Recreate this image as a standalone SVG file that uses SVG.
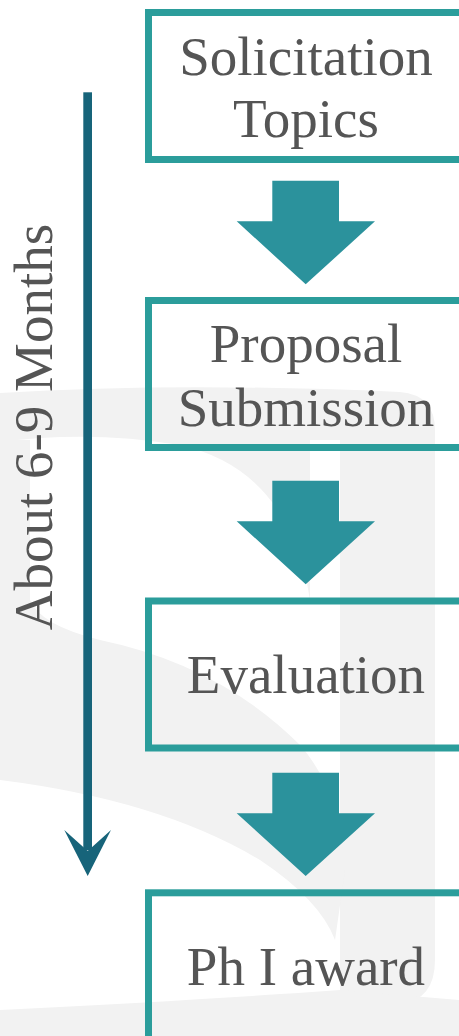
<svg xmlns="http://www.w3.org/2000/svg" width="459" height="1036" viewBox="0 0 459 1036">
<style>
.wm{fill:#f2f2f2;stroke:none}
.box{fill:none;stroke:#2b9d9b;stroke-width:7}
.lbl{font-family:"Liberation Serif","Times New Roman",serif;font-size:55px;fill:#555555;text-anchor:middle}
.blk{fill:#2b929c}
</style>
<rect width="459" height="1036" fill="#ffffff"/>
<g id="watermark">
<path class="wm" d="M0,393 Q180,382 400,392 Q435,395 435,430 L435,960 Q435,1000 400,1004 L340,1004 L340,440 L310,440 L310,600 Q290,470 180,445 Q90,430 0,442 Z"/>
<path class="wm" d="M0,440 L0,780 Q160,800 260,860 Q320,900 335,940 L345,870 Q340,790 300,745 Q220,665 100,640 Q40,625 30,600 L30,440 Z"/>
<path class="wm" d="M0,1010 Q200,1000 340,990 L459,1000 L459,1036 L0,1036 Z"/>
</g>
<g id="connectors">
<polygon class="blk" points="272.3,180.7 339,180.7 339,221.3 375,221.3 305.7,284.3 236.7,221.3 272.3,221.3"/>
<polygon class="blk" points="272.3,480.7 339,480.7 339,521.3 375,521.3 305.7,584.3 236.7,521.3 272.3,521.3"/>
<polygon class="blk" points="272.3,772.7 339,772.7 339,813.3 375,813.3 305.7,876 236.7,813.3 272.3,813.3"/>
</g>
<g id="timeline">
<rect x="83.3" y="92.3" width="8.7" height="758" fill="#17647a"/>
<polygon points="64.3,830 87.7,876 111,830 87.7,851" fill="#17647a"/>
<text class="lbl" transform="translate(52,427) rotate(-90)" x="0" y="0">About 6-9 Months</text>
</g>
<g id="node1">
<rect class="box" x="148.5" y="12.5" width="330" height="147"/>
<text class="lbl" x="306" y="75">Solicitation</text>
<text class="lbl" x="306" y="137.3">Topics</text>
</g>
<g id="node2">
<rect class="box" x="148.5" y="300.5" width="330" height="147"/>
<text class="lbl" x="306" y="362">Proposal</text>
<text class="lbl" x="306" y="426">Submission</text>
</g>
<g id="node3">
<rect class="box" x="148.5" y="601" width="330" height="147"/>
<text class="lbl" x="306" y="693.3">Evaluation</text>
</g>
<g id="node4">
<rect class="box" x="148.5" y="892.8" width="330" height="147"/>
<text class="lbl" x="306" y="985">Ph I award</text>
</g>
</svg>
